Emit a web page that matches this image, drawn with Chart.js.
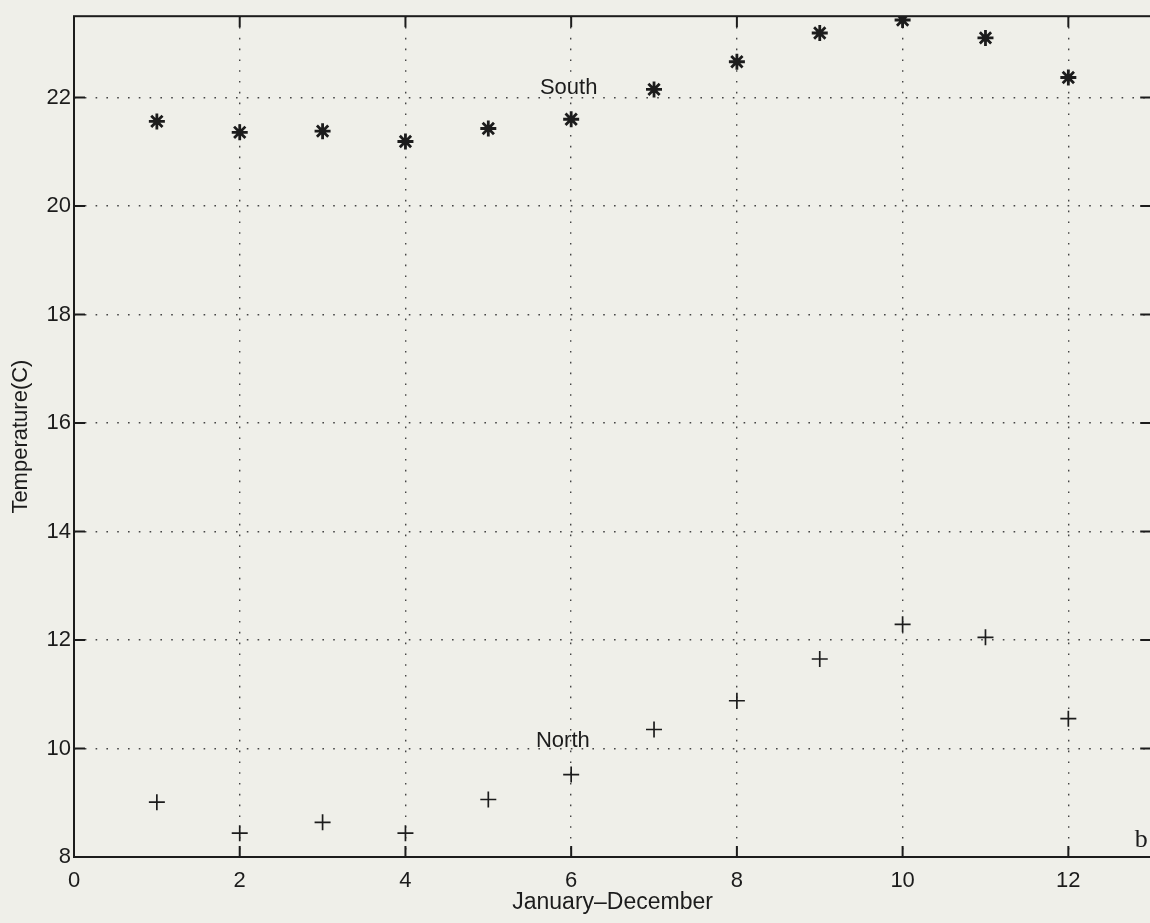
<!DOCTYPE html>
<html lang="en">
<head>
<meta charset="UTF-8">
<title>Temperature North / South</title>
<script src="https://cdn.jsdelivr.net/npm/chart.js@4.4.1/dist/chart.umd.min.js"></script>
<style>
  html, body { margin:0; padding:0; background:#efefe9; overflow:hidden; }
  #wrap { width:1162px; height:923px; }
</style>
</head>
<body>
<div id="wrap"><canvas id="myChart"></canvas></div>
<script>
// monthly values
var months    = [1, 2, 3, 4, 5, 6, 7, 8, 9, 10, 11, 12];
var southTemp = [21.56, 21.36, 21.38, 21.19, 21.43, 21.60, 22.15, 22.66, 23.19, 23.43, 23.10, 22.37];
var northTemp = [9.01, 8.44, 8.64, 8.44, 9.06, 9.52, 10.35, 10.88, 11.65, 12.29, 12.05, 10.55];
var xTicks = [0, 2, 4, 6, 8, 10, 12];
var yTicks = [8, 10, 12, 14, 16, 18, 20, 22];
// text labels inside the axes (data coords, baseline)
var noteText = ['South', 'North', 'b'];
var noteX    = [5.97, 5.90, 12.88];
var noteY    = [22.06, 10.02, 8.18];

var ink = '#1c1c1c';
var fam = "'Liberation Sans', Arial, sans-serif";
var tickFont = { family: fam, size: 22 };

// box, inward ticks and the text labels, matlab style
var frameBox = {
  id: 'frameBox',
  afterDraw: function(chart) {
    var ctx = chart.ctx, a = chart.chartArea;
    var xs = chart.scales.x, ys = chart.scales.y;
    ctx.save();
    ctx.strokeStyle = ink;
    ctx.lineWidth = 2;
    ctx.strokeRect(a.left, a.top, a.right - a.left, a.bottom - a.top);
    var len = 11;
    ctx.beginPath();
    xTicks.forEach(function(v) {
      var px = xs.getPixelForValue(v);
      ctx.moveTo(px, a.bottom); ctx.lineTo(px, a.bottom - len);
      ctx.moveTo(px, a.top); ctx.lineTo(px, a.top + len);
    });
    yTicks.forEach(function(v) {
      var py = ys.getPixelForValue(v);
      ctx.moveTo(a.left, py); ctx.lineTo(a.left + len, py);
      ctx.moveTo(a.right, py); ctx.lineTo(a.right - len, py);
    });
    ctx.stroke();

    ctx.fillStyle = ink;
    ctx.textAlign = 'center';
    ctx.textBaseline = 'alphabetic';
    for (var i = 0; i < noteText.length; i++) {
      if (noteText[i] === 'b') ctx.font = "26px 'Liberation Serif', serif";
      else ctx.font = "22px " + fam;
      ctx.fillText(noteText[i], xs.getPixelForValue(noteX[i]), ys.getPixelForValue(noteY[i]));
    }
    ctx.restore();
  }
};

var ctx = document.getElementById('myChart').getContext('2d');
var myChart = new Chart(ctx, {
  type: 'scatter',
  data: {
    datasets: [{
      label: 'South',
      data: months.map(function(m, i) { return { x: m, y: southTemp[i] }; }),
      pointStyle: 'star',
      radius: 8,
      borderWidth: 2.8,
      borderColor: ink,
      backgroundColor: ink
    }, {
      label: 'North',
      data: months.map(function(m, i) { return { x: m, y: northTemp[i] }; }),
      pointStyle: 'cross',
      radius: 8,
      borderWidth: 1.7,
      borderColor: ink,
      backgroundColor: ink
    }]
  },
  options: {
    responsive: true,
    maintainAspectRatio: false,
    animation: false,
    layout: { padding: { top: 12, right: 0, left: 0, bottom: 0 } },
    plugins: { legend: { display: false }, tooltip: { enabled: false } },
    scales: {
      x: {
        type: 'linear',
        min: 0, max: 13,
        afterBuildTicks: function(s) { s.ticks = xTicks.map(function(v) { return { value: v }; }); },
        afterFit: function(s) { s.height = 66; },
        grid: { color: '#444', lineWidth: 1.4, drawTicks: false },
        border: { display: false, dash: [1.6, 9.2] },
        ticks: { color: ink, font: tickFont, padding: 11, maxRotation: 0 },
        title: { display: true, text: 'January–December', color: ink, font: { family: fam, size: 23 }, padding: { top: 0, bottom: 7 } }
      },
      y: {
        type: 'linear',
        min: 8, max: 23.5,
        afterBuildTicks: function(s) { s.ticks = yTicks.map(function(v) { return { value: v }; }); },
        afterFit: function(s) { s.width = 74; },
        grid: { color: '#444', lineWidth: 1.4, drawTicks: false },
        border: { display: false, dash: [1.6, 9.2] },
        ticks: { color: ink, font: tickFont, padding: 3 },
        title: { display: true, text: 'Temperature(C)', color: ink, font: { family: fam, size: 22 }, padding: { top: 8, bottom: 0 } }
      }
    }
  },
  plugins: [frameBox]
});
</script>
</body>
</html>
